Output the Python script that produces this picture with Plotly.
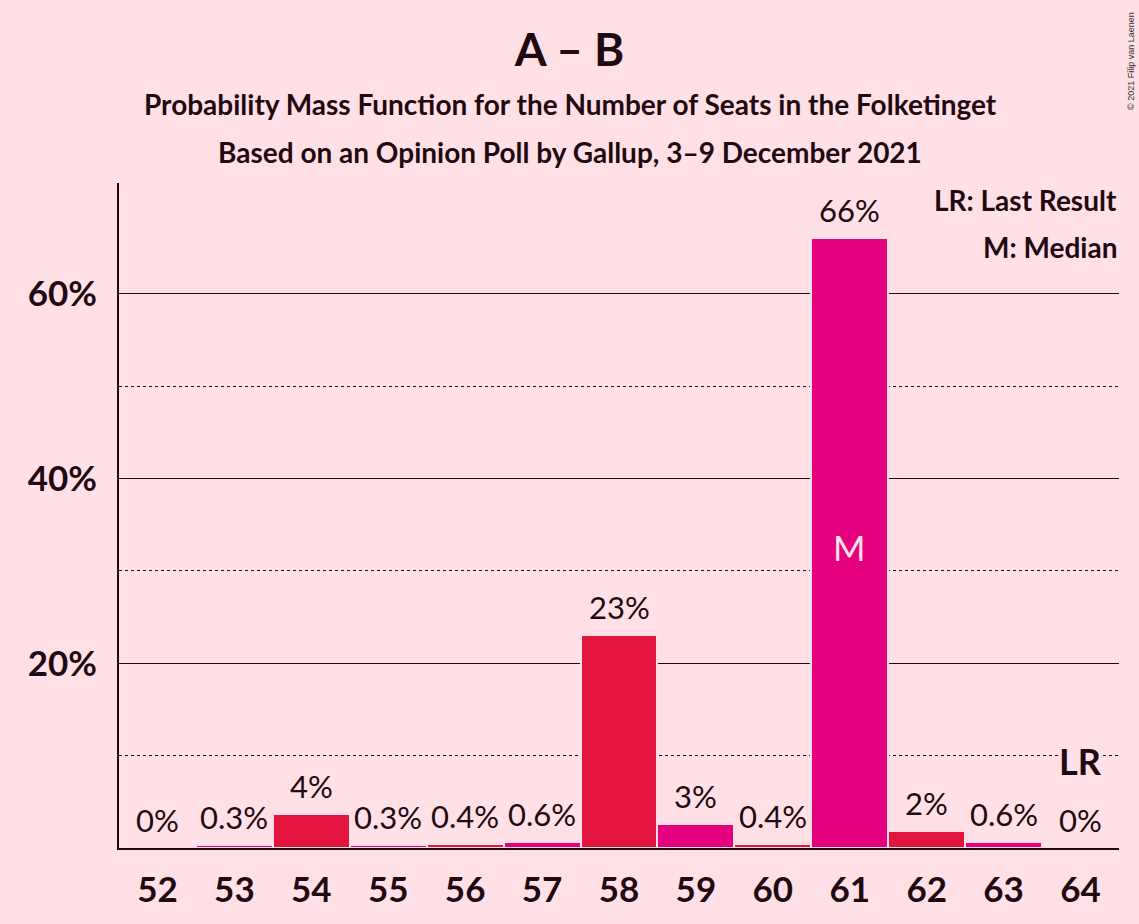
import plotly.graph_objects as go

# ---- data ----
seats = [52, 53, 54, 55, 56, 57, 58, 59, 60, 61, 62, 63, 64]
probabilities = [0.0, 0.3, 3.7, 0.3, 0.4, 0.6, 23.1, 2.6, 0.4, 66.0, 1.8, 0.6, 0.0]
median_seat = 61
last_result_seat = 64
y_tick_values = [20, 40, 60]
y_tick_labels = ["20%", "40%", "60%"]
y_minor_values = [10, 30, 50]

title_text = "A – B"
subtitle_1 = "Probability Mass Function for the Number of Seats in the Folketinget"
subtitle_2 = "Based on an Opinion Poll by Gallup, 3–9 December 2021"
legend_lr = "LR: Last Result"
legend_m = "M: Median"
copyright_text = "© 2021 Filip van Laenen"

# ---- style ----
BG = "#FFE0E6"
INK = "#1F0A12"
RED = "#E3143D"
MAGENTA = "#E5007D"
FONT = "Lato"


def fmt(v):
    if v == 0:
        return "0%"
    if v < 1:
        return f"{v:.1f}%"
    return f"{round(v)}%"


colors = [RED if s % 2 == 0 else MAGENTA for s in seats]

fig = go.Figure()
fig.add_trace(go.Bar(
    x=seats, y=probabilities,
    marker=dict(color=colors, line=dict(color=BG, width=2)),
    hoverinfo="skip",
))

annotations = []
for s, v in zip(seats, probabilities):
    annotations.append(dict(
        x=s, y=v, xref="x", yref="y", text=fmt(v), showarrow=False,
        yanchor="bottom", yshift=7,
        font=dict(family=FONT, size=31, color=INK),
    ))
    if s == median_seat:
        annotations.append(dict(
            x=s, y=v / 2, xref="x", yref="y", text="M", showarrow=False,
            yanchor="middle", yshift=-4,
            font=dict(family=FONT, size=35, color=BG),
        ))
    if s == last_result_seat:
        annotations.append(dict(
            x=s, y=v, xref="x", yref="y", text="<b>LR</b>", showarrow=False,
            yanchor="bottom", yshift=64, bgcolor=BG, borderpad=0,
            font=dict(family=FONT, size=36, color=INK),
        ))

annotations += [
    dict(x=1, y=0.974, xref="paper", yref="paper", xanchor="right", yanchor="middle",
         text=f"<b>{legend_lr}</b>", showarrow=False,
         font=dict(family=FONT, size=28, color=INK)),
    dict(x=1, y=0.904, xref="paper", yref="paper", xanchor="right", yanchor="middle",
         text=f"<b>{legend_m}</b>", showarrow=False,
         font=dict(family=FONT, size=28, color=INK)),
    dict(x=0.451, y=1.1188, xref="paper", yref="paper", xanchor="center", yanchor="middle",
         text=f"<b>{subtitle_1}</b>", showarrow=False,
         font=dict(family=FONT, size=28, color=INK)),
    dict(x=0.451, y=1.0466, xref="paper", yref="paper", xanchor="center", yanchor="middle",
         text=f"<b>{subtitle_2}</b>", showarrow=False,
         font=dict(family=FONT, size=28, color=INK)),
    dict(x=1.012, y=1.1835, xref="paper", yref="paper", xanchor="center", yanchor="middle",
         text=copyright_text, showarrow=False, textangle=-90,
         font=dict(family="Liberation Sans", size=9, color="#333333")),
]

fig.update_layout(
    width=1139, height=924,
    paper_bgcolor=BG, plot_bgcolor=BG,
    margin=dict(l=119, r=20, t=183, b=76, autoexpand=False),
    showlegend=False,
    bargap=0,
    title=dict(text=f"<b>{title_text}</b>", x=0.5, xref="container", xanchor="center",
               y=1 - 50 / 924, yref="container", yanchor="middle",
               font=dict(family=FONT, size=46, color=INK)),
    annotations=annotations,
    xaxis=dict(
        range=[51.5, 64.5], tickmode="array", tickvals=seats,
        ticktext=[f"<b>{s}</b>" for s in seats],
        tickfont=dict(family=FONT, size=35, color=INK),
        showgrid=False, zeroline=False, automargin=False,
        showline=True, linecolor=INK, linewidth=2,
        ticks="", ticklabelstandoff=10,
    ),
    yaxis=dict(
        range=[0, 72], tickmode="array", tickvals=y_tick_values,
        ticktext=[f"<b>{t}</b>" for t in y_tick_labels],
        tickfont=dict(family=FONT, size=35, color=INK),
        showgrid=True, gridcolor=INK, gridwidth=1, griddash="solid",
        zeroline=False, automargin=False,
        showline=True, linecolor=INK, linewidth=2,
        ticks="", ticklabelstandoff=13,
        minor=dict(tickmode="array", tickvals=y_minor_values, showgrid=True,
                   gridcolor=INK, gridwidth=1, griddash="dot", ticks=""),
    ),
)

fig.write_html("out.html", config={"displayModeBar": False},
               post_script="document.body.style.margin='0';")
